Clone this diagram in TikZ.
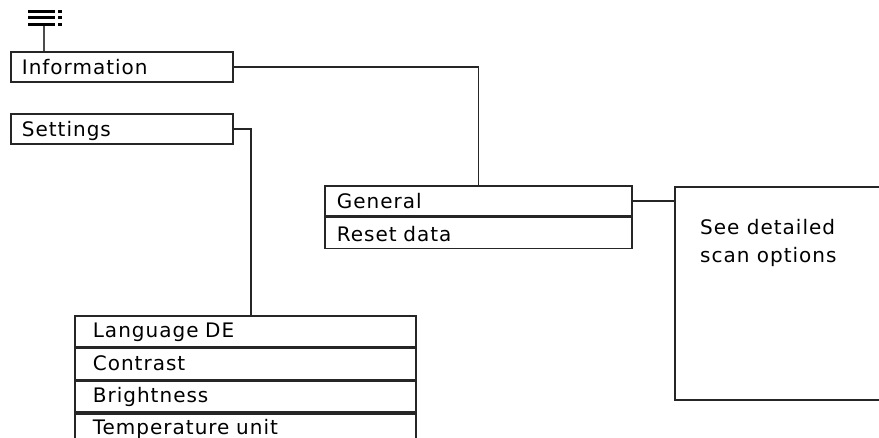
\documentclass[tikz,border=0pt]{standalone}
\usepackage{fontspec}
\setmainfont{DejaVu Sans}[LetterSpace=5]
\usepackage{tikz}
\usetikzlibrary{positioning}

\tikzset{
  menubox/.style={draw=black!85, line width=1.7pt, anchor=north west,
    minimum height=30, inner xsep=11, text height=17pt, text depth=2pt,
    font=\fontsize{20}{28}\selectfont, align=left},
  listbox/.style={menubox, minimum height=31, inner xsep=18,
    text height=15pt, text depth=3pt},
  link/.style={draw=black!85, line width=1.7pt}
}

\begin{document}
\begin{tikzpicture}[x=1pt,y=1pt]
\useasboundingbox (0,0) rectangle (879,-437);
% menu icon:
\path[fill=black] (28,-10) rectangle (55,-12.5);
\path[fill=black] (28,-16) rectangle (55,-18.5);
\path[fill=black] (28,-23) rectangle (55,-26);
\path[fill=black] (58,-10) rectangle (62,-12.5);
\path[fill=black] (58,-16) rectangle (62,-18.5);
\path[fill=black] (58,-23) rectangle (62,-26);
\coordinate (menu) at (44,-26);
% boxes:
\node[menubox, text width=200] (info) at (10,-51) {Information};
\node[menubox, text width=200] (settings) at (10,-113) {Settings};
\node[menubox, text width=283, inner xsep=12] (general) at (324,-185) {General};
\node[menubox, text width=283, inner xsep=12, minimum height=31,
  text height=18pt, text depth=2pt] (reset) at (general.south west) {Reset data};
\node[draw=black!85, line width=1.7pt, anchor=north west,
  minimum width=240, minimum height=213] (scan) at (674,-186) {};
\node[anchor=north west, align=left, inner sep=0,
  font=\fontsize{20}{28}\selectfont] (scantext) at ([xshift=26,yshift=-33]scan.north west) {See detailed\\scan options};
\node[listbox, text width=305] (lang) at (74,-315) {Language DE};
\node[listbox, text width=305] (contrast) at (lang.south west) {Contrast};
\node[listbox, text width=305] (bright) at (contrast.south west) {Brightness};
\node[listbox, text width=305, text height=13pt, text depth=3pt] (temp) at (bright.south west) {Temperature unit};
% connectors:
\draw[black!70, line width=1.7pt] (menu) -- (menu |- info.north);
\draw[link] (info.east) -| (general.north);
\draw[link] (settings.east) -| ([xshift=5.5]lang.north);
\draw[link] (general.east) -- (general.east -| scan.west);
\end{tikzpicture}
\end{document}
